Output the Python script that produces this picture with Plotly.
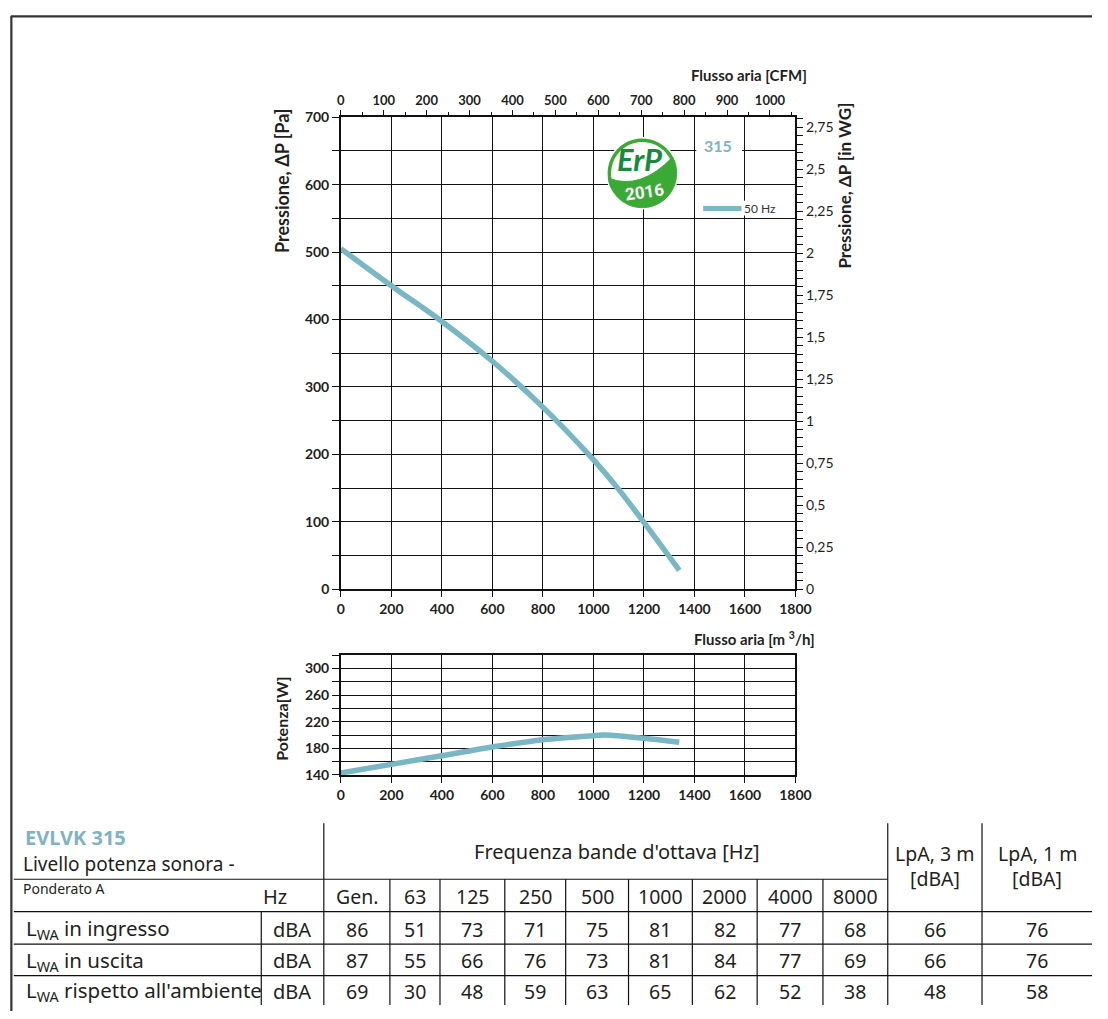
import numpy as np
import plotly.graph_objects as go

# ---------------- data ----------------
flow_m3h = [0, 200, 400, 600, 800, 1000, 1100, 1200, 1340]
pressure_pa = [505, 450, 397, 338, 270, 192, 148, 99, 28]

power_flow_m3h = [0, 200, 400, 600, 800, 1000, 1050, 1200, 1340]
power_w = [143, 156, 169, 182, 193, 199, 200, 195, 189]

inwg_tickvals = [0, 0.25, 0.5, 0.75, 1, 1.25, 1.5, 1.75, 2, 2.25, 2.5, 2.75]
inwg_ticktext = ["0", "0,25", "0,5", "0,75", "1", "1,25", "1,5", "1,75", "2", "2,25", "2,5", "2,75"]

series_name = "50 Hz"
model_size = "315"
model_name = "EVLVK 315"

freq_bands = ["Gen.", "63", "125", "250", "500", "1000", "2000", "4000", "8000"]
row_labels = ["L<sub>WA</sub> in ingresso", "L<sub>WA</sub> in uscita",
              "L<sub>WA</sub> rispetto all'ambiente"]
lwa_inlet = [86, 51, 73, 71, 75, 81, 82, 77, 68]
lwa_outlet = [87, 55, 66, 76, 73, 81, 84, 77, 69]
lwa_ambient = [69, 30, 48, 59, 63, 65, 62, 52, 38]
lpa_3m = [66, 66, 48]
lpa_1m = [76, 76, 58]

M3H_PER_CFM = 1.699
PA_PER_INWG = 249.089

# ---------------- layout helpers (pixel -> paper) ----------------
W, H = 1108, 1019


def px(x):
    return x / W


def py(y):
    return 1 - y / H


CURVE = "#7ab7c4"
TEXT = "#231f20"
GREEN = "#3aaa35"
CHART_FONT = "Lato"
TABLE_FONT = "Noto Sans"

fig = go.Figure()

# pressure curve
fig.add_trace(go.Scatter(x=flow_m3h, y=pressure_pa, mode="lines", name=series_name,
                         line=dict(color=CURVE, width=5.5, shape="spline"),
                         xaxis="x", yaxis="y", showlegend=False))
# same curve in CFM / in WG keeps the secondary axes bound
fig.add_trace(go.Scatter(x=[f / M3H_PER_CFM for f in flow_m3h], y=pressure_pa, mode="lines",
                         line=dict(width=0), opacity=0, hoverinfo="skip",
                         xaxis="x2", yaxis="y", showlegend=False))
fig.add_trace(go.Scatter(x=flow_m3h, y=[p / PA_PER_INWG for p in pressure_pa], mode="lines",
                         line=dict(width=0), opacity=0, hoverinfo="skip",
                         xaxis="x", yaxis="y3", showlegend=False))
# power curve
fig.add_trace(go.Scatter(x=power_flow_m3h, y=power_w, mode="lines",
                         line=dict(color=CURVE, width=5.5, shape="spline"),
                         xaxis="x3", yaxis="y4", showlegend=False))

tick_bold = dict(family=CHART_FONT, size=14, color=TEXT, weight="bold")
tick_reg = dict(family=CHART_FONT, size=14, color=TEXT)
grid = dict(showgrid=True, gridcolor="#111", gridwidth=1.2, zeroline=False,
            showline=True, linecolor="#111", linewidth=1.5, tickcolor="#111")

x_dom = [px(343), px(806)]

fig.update_layout(
    width=W, height=H,
    margin=dict(l=0, r=0, t=0, b=0),
    paper_bgcolor="white", plot_bgcolor="white",
    xaxis=dict(domain=x_dom, anchor="y", range=[0, 1800], tick0=0, dtick=200,
               ticks="outside", ticklen=6, tickfont=tick_bold, mirror=True, **grid),
    yaxis=dict(domain=[py(590), py(110)], anchor="x", range=[0, 700], tick0=0, dtick=100,
               ticks="outside", ticklen=7, tickfont=tick_bold, mirror=True,
               minor=dict(dtick=50, ticks="outside", ticklen=7, showgrid=True,
                          gridcolor="#111", gridwidth=1.2, tickcolor="#111"),
               **grid),
    xaxis2=dict(overlaying="x", side="top", anchor="y", range=[0, 1800 / M3H_PER_CFM],
                tick0=0, dtick=100, ticks="outside", ticklen=5, tickcolor="#111",
                minor=dict(dtick=50, ticks="outside", ticklen=3, tickcolor="#111"),
                showgrid=False, zeroline=False, showline=True, linecolor="#111",
                linewidth=1.5, tickfont=dict(family=CHART_FONT, size=13, color=TEXT, weight="bold")),
    yaxis3=dict(overlaying="y", side="right", anchor="x", range=[0, 700 / PA_PER_INWG],
                tickvals=inwg_tickvals, ticktext=inwg_ticktext, ticks="outside", ticklen=6,
                tickcolor="#111",
                minor=dict(dtick=0.05, ticks="outside", ticklen=6, tickcolor="#111"),
                showgrid=False, zeroline=False, showline=True, linecolor="#111",
                linewidth=1.5, tickfont=tick_reg),
    xaxis3=dict(domain=x_dom, anchor="y4", range=[0, 1800], tick0=0, dtick=200,
                ticks="outside", ticklen=6, tickfont=tick_bold, mirror=True, **grid),
    yaxis4=dict(domain=[py(779), py(657)], anchor="x3", range=[140, 320], tick0=140, dtick=40,
                ticks="outside", ticklen=7, tickfont=tick_bold, mirror=True,
                minor=dict(dtick=20, ticks="outside", ticklen=7, showgrid=True,
                           gridcolor="#111", gridwidth=1.2, tickcolor="#111"),
                **grid),
)

shapes = []
annots = []


def line(x0, y0, x1, y1, width=1.2, color="#111"):
    shapes.append(dict(type="line", xref="paper", yref="paper", x0=px(x0), y0=py(y0),
                       x1=px(x1), y1=py(y1), line=dict(color=color, width=width), layer="above"))


def text(x, y, s, size=18, color=TEXT, xanchor="center", yanchor="middle", family=TABLE_FONT,
         weight="normal", angle=0, style="normal"):
    annots.append(dict(xref="paper", yref="paper", x=px(x), y=py(y), text=s, showarrow=False,
                       xanchor=xanchor, yanchor=yanchor, textangle=angle,
                       font=dict(family=family, size=size, color=color, weight=weight, style=style)))


# page frame (top and left rules)
line(7, 7.5, W, 7.5, width=2.2, color="#333")
line(7.5, 7, 7.5, H, width=2.2, color="#333")

# axis titles
text(820, 67, "Flusso aria [CFM]", size=15, xanchor="right", family=CHART_FONT, weight="bold")
text(828, 640, "Flusso aria [m <sup>3</sup>/h]", size=15, xanchor="right", family=CHART_FONT,
     weight="bold")
text(283, 174, "Pressione, ΔP [Pa]", size=18, family=CHART_FONT, weight="bold", angle=-90)
text(856, 180, "Pressione, ΔP [in WG]", size=17, family=CHART_FONT, weight="bold", angle=-90)
text(283, 722, "Potenza[W]", size=16, family=CHART_FONT, weight="bold", angle=-90)

# white patches behind the labels inside the plot
shapes.append(dict(type="rect", xref="paper", yref="paper", x0=px(705), x1=px(751.5),
                   y0=py(158), y1=py(112), fillcolor="white", line=dict(width=0), layer="above"))
shapes.append(dict(type="rect", xref="paper", yref="paper", x0=px(706), x1=px(800),
                   y0=py(210), y1=py(195), fillcolor="white", line=dict(width=0), layer="above"))

# series label and legend sample
text(727, 139, model_size, size=16, color="#7fb3c3", family=CHART_FONT, weight="bold")
line(712, 203, 751, 203, width=5, color=CURVE)
text(752, 203, series_name, size=12, xanchor="left", family=CHART_FONT, color="#333")

# ErP 2016 badge
cx, cy, r = 650, 167, 35
shapes.append(dict(type="circle", xref="paper", yref="paper", x0=px(cx - r - 2), x1=px(cx + r + 2),
                   y0=py(cy + r + 2), y1=py(cy - r - 2), fillcolor="white",
                   line=dict(width=0), layer="above"))


def pt(ang_deg, rad):
    a = np.radians(ang_deg)
    return cx + rad * np.cos(a), cy - rad * np.sin(a)


ring = [pt(a, r - 1.5) for a in np.linspace(205, 18, 60)]
ring_path = "M " + " L ".join(f"{px(x):.5f},{py(y):.5f}" for x, y in ring)
shapes.append(dict(type="path", xref="paper", yref="paper", path=ring_path,
                   line=dict(color=GREEN, width=3.5), layer="above"))

lx0, ly0 = pt(188, r)
rx0, ry0 = pt(28, r)
arc = [pt(a, r) for a in np.linspace(28, -172, 80)]
leaf = (f"M {px(lx0):.5f},{py(ly0):.5f} "
        f"Q {px(cx - 2):.5f},{py(cy + 18):.5f} {px(rx0):.5f},{py(ry0):.5f} "
        + " ".join(f"L {px(x):.5f},{py(y):.5f}" for x, y in arc) + " Z")
shapes.append(dict(type="path", xref="paper", yref="paper", path=leaf, fillcolor=GREEN,
                   line=dict(color=GREEN, width=1), layer="above"))
text(cx - 2, cy - 14, "ErP", size=31, color="#178a3c", family=CHART_FONT, weight="bold",
     style="italic")
text(cx + 2, cy + 19, "2016", size=17, color="white", family="Roboto", weight="bold", angle=-8)

# ---------------- sound table ----------------
col_edges = [325.7, 393, 444, 510, 572, 636, 701, 767, 834, 900, 996, 1108]
row_lines = [918, 951, 983]
row_centers = [936, 968, 999]
table_bottom = 1013

text(19, 843, model_name, size=20, color="#7fb3c3", xanchor="left", weight="bold")
text(17, 870, "Livello potenza sonora -", size=19, xanchor="left")
text(17, 894, "Ponderato A", size=14, xanchor="left")
text(276, 903, "Hz", size=20)
text(624, 857, "Frequenza bande d'ottava [Hz]", size=20)
for i, band in enumerate(freq_bands):
    text((col_edges[i] + col_edges[i + 1]) / 2, 903, band, size=19.5)
for k, lab in enumerate(["LpA, 3 m", "LpA, 1 m"]):
    xc = (col_edges[9 + k] + col_edges[10 + k]) / 2
    text(xc, 859, lab, size=19.5)
    text(xc, 884, "[dBA]", size=19.5)

values = [lwa_inlet, lwa_outlet, lwa_ambient]
for r_i in range(3):
    yc = row_centers[r_i]
    text(20, yc, row_labels[r_i], size=20.5, xanchor="left")
    text(293, yc, "dBA", size=20)
    for i, v in enumerate(values[r_i]):
        text((col_edges[i] + col_edges[i + 1]) / 2, yc, str(v), size=19.5)
    text((col_edges[9] + col_edges[10]) / 2, yc, str(lpa_3m[r_i]), size=19.5)
    text((col_edges[10] + col_edges[11]) / 2, yc, str(lpa_1m[r_i]), size=19.5)

# table rules
line(col_edges[0], 828, col_edges[0], table_bottom)
line(col_edges[9], 828, col_edges[9], table_bottom)
line(col_edges[10], 828, col_edges[10], table_bottom)
line(10, 885, col_edges[9], 885)
for xe in col_edges[1:9]:
    line(xe, 885, xe, table_bottom)
line(262, row_lines[0], 262, table_bottom)
for yl in row_lines:
    line(10, yl, W, yl)

fig.update_layout(shapes=shapes, annotations=annots)
fig.write_html("out.html")
